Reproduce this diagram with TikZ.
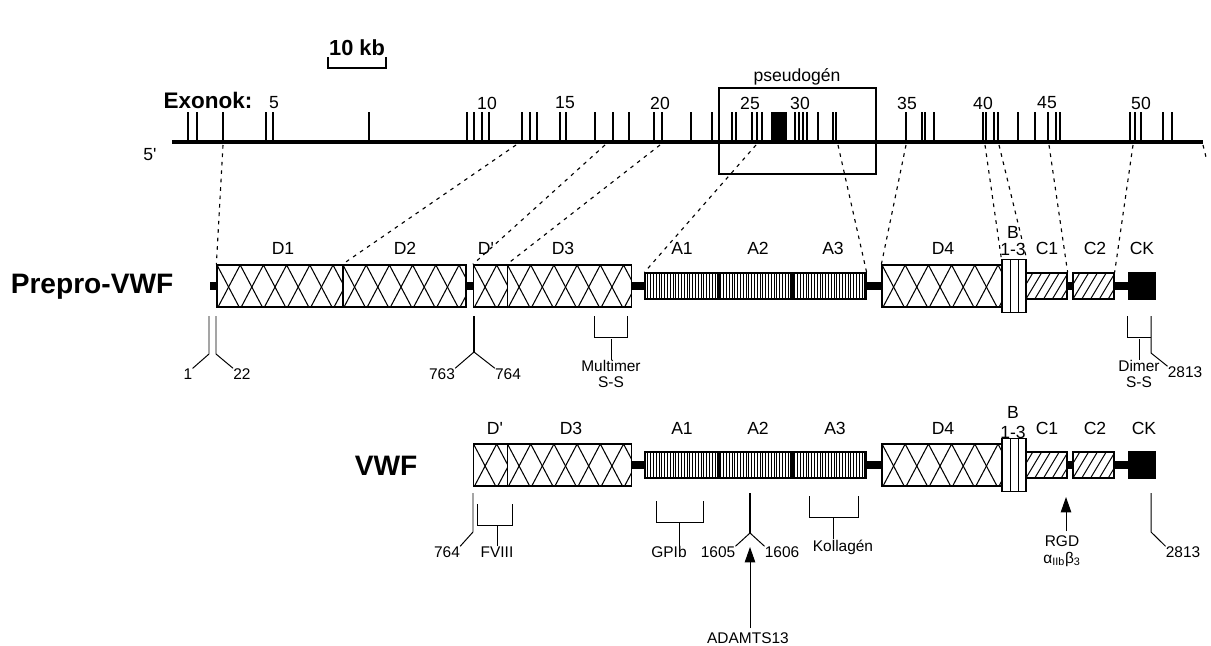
\documentclass[tikz,border=0pt]{standalone}
\usepackage{fontspec}
\setmainfont{Liberation Sans}
\usetikzlibrary{arrows.meta}

\newcommand{\pxw}{0.025cm}

\tikzset{
  dbox/.style={draw, line width=0.9pt, inner sep=0pt, minimum height=42*\pxw},
  crossbox/.style={dbox, path picture={
      \foreach \i in {-2,...,8}
        \draw[line width=0.75pt]
          ([xshift=\i*0.58cm]path picture bounding box.north west) -- ++(0.58cm,-1.1cm)
          ([xshift=\i*0.58cm]path picture bounding box.north west) -- ++(-0.58cm,-1.1cm);}},
  stripebox/.style={dbox, minimum height=26*\pxw, path picture={
      \foreach \i in {1,...,32}
        \draw[line width=0.5pt]
          ([xshift=\i*0.07cm]path picture bounding box.south west) -- ++(0,0.7cm);}},
  hatchbox/.style={dbox, minimum height=26*\pxw, path picture={
      \foreach \i in {-2,...,6}
        \draw[line width=0.7pt]
          ([xshift=\i*0.22cm]path picture bounding box.south west) -- ++(0.42cm,0.7cm);}},
  bbox/.style={dbox, minimum width=24*\pxw, minimum height=53*\pxw, path picture={
      \draw[line width=0.7pt]
        ([xshift=0.2cm]path picture bounding box.south west) -- ++(0,1.4cm)
        ([xshift=0.4cm]path picture bounding box.south west) -- ++(0,1.4cm);}},
  ckbox/.style={dbox, fill=black, minimum width=26*\pxw, minimum height=26*\pxw},
  linker/.style={line width=5pt},
  gap/.style={dash pattern=on 2.6pt off 3.4pt, line width=0.8pt},
  ann/.style={line width=0.7pt},
  site/.style={line width=1.4pt},
  tip/.style={-{Triangle[length=11pt,width=7.5pt]}},
  dlab/.style={font=\fontsize{12.5}{14}\selectfont, inner sep=0pt},
  slab/.style={font=\fontsize{11}{12}\selectfont, inner sep=0pt, align=center},
  title/.style={font=\fontsize{20}{24}\selectfont\bfseries, inner sep=0pt}
}

\begin{document}
\begin{tikzpicture}[x=0.025cm, y=-0.025cm]
  \useasboundingbox (0,0) rectangle (1211,645);

  % scale bar
  \node[font=\fontsize{15.5}{18}\selectfont\bfseries, inner sep=0pt] (kb) at (357,48) {10 kb};
  \coordinate (kbL) at (328,57);
  \coordinate (kbR) at (386,57);
  \draw[line width=1.5pt] (kbL) -- ++(0,11) -| (kbR);

  % gene with exons
  \node[font=\fontsize{16}{18}\selectfont\bfseries, inner sep=0pt] (exo) at (208,100) {Exonok:};
  \foreach \x/\n in {274/5, 487/10, 565/15, 660/20, 750/25, 800/30, 907/35, 983/40, 1047/45, 1141/50}
    \node[dlab] (ex\n) at (\x,103) {\n};
  \node[dlab] (five) at (150,155) {5\textquotesingle};
  \coordinate (gstart) at (172,142);
  \coordinate (gend) at (1203,142);
  \draw[line width=2.8pt] (gstart) -- (gend);
  \foreach \x in {197,369,489,522,530,537,613,629,654,662,691,712,732,736,752,757,762,
                  799,803,807,833,836,906,922,925,934,994,998,1018,1035,1048,1056,1060,
                  1130,1135,1141,1163}
    \draw[line width=0.9pt] (\x,142) -- (\x,112);
  \foreach \x in {188,223,266,273,467,474,482,560,566,595,795,818,983,986,1172}
    \draw[line width=2pt] (\x,142) -- (\x,112);
  \fill (771,112) rectangle (787,142);

  % pseudogene
  \node[draw, line width=0.8pt, minimum width=157*\pxw, minimum height=86*\pxw] (pseudo) at (797.5,131) {};
  \node[dlab] (pslab) at (797,77) {pseudogén};

  % domains, both rows
  \foreach \r/\y in {p/286, v/465} {
    \node[crossbox, minimum width=34*\pxw] (\r Dp) at (490.5,\y) {};
    \node[crossbox, minimum width=124*\pxw] (\r D3) at (569.5,\y) {};
    \node[stripebox, minimum width=73*\pxw] (\r A1) at (681.5,\y) {};
    \node[stripebox, minimum width=74*\pxw] (\r A2) at (755,\y) {};
    \node[stripebox, minimum width=74*\pxw] (\r A3) at (829,\y) {};
    \node[crossbox, minimum width=120*\pxw] (\r D4) at (942,\y) {};
    \node[bbox] (\r B) at (1014,\y) {};
    \node[hatchbox, minimum width=41*\pxw] (\r C1) at (1046.5,\y) {};
    \node[hatchbox, minimum width=41*\pxw] (\r C2) at (1093.5,\y) {};
    \node[ckbox] (\r CK) at (1142,\y) {};
    \draw[line width=1.6pt] (\r A1.north east) -- (\r A1.south east)
                            (\r A2.north east) -- (\r A2.south east);
    \draw[linker] (\r D3.east) -- (\r A1.west);
    \draw[linker] (\r A3.east) -- (\r D4.west);
    \draw[linker] (\r C1.east) -- (\r C2.west);
    \draw[linker] (\r C2.east) -- (\r CK.west);
  }

  % Prepro-VWF only
  \node[title] (prepro) at (92,287) {Prepro-VWF};
  \coordinate (pN) at (210,286);
  \node[crossbox, minimum width=126*\pxw] (pD1) at (280,286) {};
  \node[crossbox, minimum width=123*\pxw] (pD2) at (404.5,286) {};
  \draw[linker] (pN) -- (pD1.west);
  \draw[linker] (pD2.east) -- (pDp.west);

  \node[title] (vwf) at (386,466) {VWF};

  % domain labels
  \foreach \x/\t [count=\i] in {283/D1, 405/D2, 486/D\textquotesingle, 563/D3, 682/A1, 758/A2,
                                 833/A3, 943/D4, 1047/C1, 1095/C2, 1142/CK}
    \node[dlab] (pl\i) at (\x,248) {\t};
  \node[dlab] (plB) at (1013,232) {B};
  \node[dlab] (plB2) at (1013,249) {1-3};
  \foreach \x/\t [count=\i] in {495/D\textquotesingle, 571/D3, 682/A1, 758/A2, 835/A3,
                                 943/D4, 1047/C1, 1095/C2, 1144/CK}
    \node[dlab] (vl\i) at (\x,428) {\t};
  \node[dlab] (vlB) at (1013,412) {B};
  \node[dlab] (vlB2) at (1013,432) {1-3};

  % exons to domains
  \coordinate (g1) at (223,145);
  \coordinate (g2) at (516,145);
  \coordinate (g3) at (605,145);
  \coordinate (g4) at (660,145);
  \coordinate (g5) at (756,145);
  \coordinate (g6) at (838,145);
  \coordinate (g7) at (906,145);
  \coordinate (g8) at (985,145);
  \coordinate (g9) at (999,145);
  \coordinate (g10) at (1049,145);
  \coordinate (g11) at (1133,145);
  \coordinate (g12) at (1203,145);
  \draw[gap] (g1) -- (pD1.north west);
  \draw[gap] (g2) -- (pD2.north west);
  \draw[gap] (g3) -- (pDp.north west);
  \draw[gap] (g4) -- (pD3.north west);
  \draw[gap] (g5) -- (pA1.north west);
  \draw[gap] (g6) -- (pA3.north east);
  \draw[gap] (g7) -- (pD4.north west);
  \draw[gap] (g8) -- (pB.north west);
  \draw[gap] (g9) -- (pB.north east);
  \draw[gap] (g10) -- (pC1.north east);
  \draw[gap] (g11) -- (pC2.north east);
  \draw[gap] (g12) -- ++(4,16);

  % Prepro-VWF sites
  \node[slab] (n1) at (188,374) {1};
  \node[slab] (n22) at (242,374) {22};
  \coordinate (s1) at (209,316);
  \coordinate (s22) at (216,316);
  \draw[ann] (s1) -- ++(0,38) -- (n1.north east);
  \draw[ann] (s22) -- ++(0,38) -- (n22.north west);

  \node[slab] (n763) at (442,374) {763};
  \node[slab] (n764) at (508,374) {764};
  \coordinate (s763) at (474,316);
  \coordinate (k763) at (474,352);
  \draw[site] (s763) -- (k763);
  \draw[ann] (k763) -- (n763.north east);
  \draw[ann] (k763) -- (n764.north west);

  \node[slab] (nMult) at (611,374) {Multimer\\S-S};
  \coordinate (mL) at (594,316);
  \coordinate (mR) at (627,316);
  \draw[ann] (mL) -- ++(0,21) -| (mR);
  \draw[ann] (nMult.north) -- ++(0,-21);

  \node[slab] (nDim) at (1139,374) {Dimer\\S-S};
  \node[slab] (n2813p) at (1185,372) {2813};
  \coordinate (dL) at (1127,316);
  \coordinate (dR) at (1151,316);
  \draw[ann] (dL) -- ++(0,21) -- ++(24,0);
  \draw[ann] (nDim.north) -- ++(0,-21);
  \draw[ann] (dR) -- ++(0,37) -- (n2813p.north west);

  % VWF sites
  \node[slab] (n764v) at (447,552) {764};
  \coordinate (v764) at (473,493);
  \draw[ann] (v764) -- ++(0,39) -- (n764v.north east);

  \node[slab] (nF8) at (497,552) {FVIII};
  \coordinate (fL) at (477,504);
  \coordinate (fR) at (512,504);
  \draw[ann] (fL) -- ++(0,21) -| (fR);
  \draw[ann] (nF8.north) -- ++(0,-21);

  \node[slab] (nGP) at (669,552) {GPIb};
  \coordinate (gL) at (656,501);
  \coordinate (gR) at (703,501);
  \coordinate (gS) at (679,522);
  \draw[ann] (gL) -- ++(0,21) -| (gR);
  \draw[ann] (gS) -- (gS |- nGP.north);

  \node[slab] (n1605) at (718,552) {1605};
  \node[slab] (n1606) at (782,552) {1606};
  \coordinate (v1605) at (750,493);
  \coordinate (k1605) at (750,533);
  \draw[site] (v1605) -- (k1605);
  \draw[ann] (k1605) -- (n1605.north east);
  \draw[ann] (k1605) -- (n1606.north west);

  \node[slab] (nADAM) at (748,638) {ADAMTS13};
  \coordinate (cut) at (750,547);
  \draw[ann, tip, shorten <=3pt] (nADAM.north -| cut) -- (cut);

  \node[slab] (nKol) at (843,547) {Kollagén};
  \coordinate (kL) at (809,496);
  \coordinate (kR) at (858,496);
  \coordinate (kS) at (833,517);
  \draw[ann] (kL) -- ++(0,21) -| (kR);
  \draw[ann] (kS) -- (kS |- nKol.north);

  \node[slab] (nRGD) at (1062,551) {RGD\\α\textsubscript{IIb}β\textsubscript{3}};
  \coordinate (rgd) at (1066,497);
  \draw[ann, tip, shorten <=3pt] (nRGD.north -| rgd) -- (rgd);

  \node[slab] (n2813v) at (1183,552) {2813};
  \coordinate (v2813) at (1151,493);
  \draw[ann] (v2813) -- ++(0,39) -- (n2813v.north west);
\end{tikzpicture}
\end{document}
